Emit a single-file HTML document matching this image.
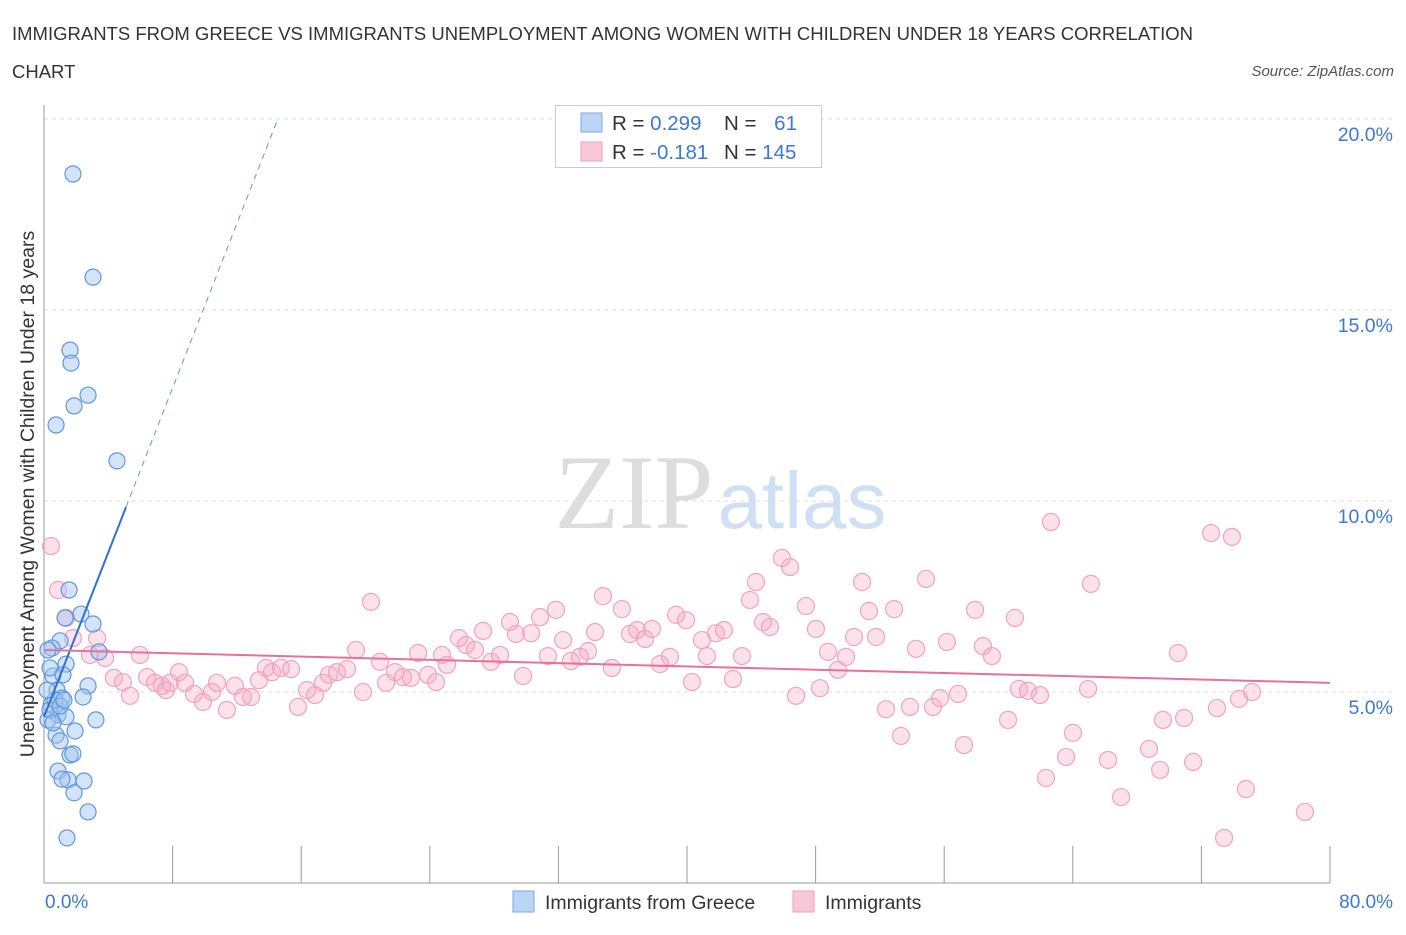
<!DOCTYPE html>
<html><head><meta charset="utf-8">
<style>
body{margin:0;background:#fff;width:1406px;height:930px;overflow:hidden;font-family:"Liberation Sans",sans-serif;}
svg text{font-family:"Liberation Sans",sans-serif;}
</style></head>
<body>
<svg id="chart" width="1406" height="930">
<text x="12" y="40" font-size="18.5" fill="#333">IMMIGRANTS FROM GREECE VS IMMIGRANTS UNEMPLOYMENT AMONG WOMEN WITH CHILDREN UNDER 18 YEARS CORRELATION</text>
<text x="12" y="78" font-size="18.5" fill="#333">CHART</text>
<text x="1394" y="76" font-size="15" fill="#555" font-style="italic" text-anchor="end">Source: ZipAtlas.com</text>
<text x="634" y="528" font-size="106" fill="#ddd" text-anchor="middle" style="font-family:'Liberation Serif',serif">ZIP</text>
<text x="802" y="528" font-size="80" fill="#d0e0f4" text-anchor="middle">atlas</text>
<text transform="translate(34,494) rotate(-90)" font-size="19.5" fill="#333" text-anchor="middle">Unemployment Among Women with Children Under 18 years</text>
<g id="grid"></g><g id="axes"></g><g id="pts"></g><g id="trends"></g>
<g>
<rect x="555.5" y="105.5" width="266" height="62" fill="#fff" stroke="#ccc"/>
<rect x="581" y="113" width="21" height="19" fill="#bcd5f5" stroke="#7aaae6"/>
<text x="612" y="130" font-size="20.5" fill="#333">R = <tspan fill="#3b78d8">0.299</tspan></text>
<text x="724" y="130" font-size="20.5" fill="#333">N = <tspan fill="#3b78d8" dx="12">61</tspan></text>
<rect x="581" y="142" width="21" height="19" fill="#f8c8d8" stroke="#eda0bb"/>
<text x="612" y="159" font-size="20.5" fill="#333">R = <tspan fill="#3b78d8">-0.181</tspan></text>
<text x="724" y="159" font-size="20.5" fill="#333">N = <tspan fill="#3b78d8">145</tspan></text>
</g>
<rect x="513" y="891" width="21" height="21" fill="#bcd5f5" stroke="#7aaae6"/>
<text x="545" y="909" font-size="19.5" fill="#333">Immigrants from Greece</text>
<rect x="793" y="891" width="21" height="21" fill="#f8c8d8" stroke="#eda0bb"/>
<text x="825" y="909" font-size="19.5" fill="#333">Immigrants</text>
</svg>
<script>
const yTicks=[5,10,15,20];
const yTickLabels=["5.0%","10.0%","15.0%","20.0%"];
const xTickLabels=["0.0%","80.0%"];
const greeceX=[1.8,3.05,1.62,1.68,2.74,1.87,0.75,4.54,1.56,2.3,3.05,1.31,1.0,0.5,1.37,3.42,0.56,2.74,0.25,0.37,1.18,0.81,2.43,1.12,0.44,0.87,0.25,1.37,3.23,0.75,1.93,1.0,1.62,1.8,0.87,1.49,1.12,2.49,1.87,2.74,1.43,0.37,0.68,0.19,0.56,1.0,1.24];
const greeceY=[18.56,15.86,13.95,13.61,12.77,12.49,11.99,11.05,7.67,7.04,6.78,6.94,6.34,6.15,5.73,6.05,5.42,5.16,6.1,5.63,5.45,5.05,4.87,4.84,4.66,4.4,4.27,4.35,4.27,3.87,3.98,3.72,3.35,3.38,2.93,2.7,2.72,2.67,2.36,1.86,1.18,4.53,4.79,5.05,4.19,4.63,4.79];
const immX=[0.44,0.87,1.37,1.80,2.86,3.30,3.80,4.35,4.91,5.35,5.97,6.41,6.91,7.34,7.59,7.84,8.40,8.77,9.33,9.89,10.45,10.76,11.38,11.88,12.38,12.88,13.37,13.81,14.18,14.74,15.37,15.80,16.36,16.86,17.36,17.73,18.23,18.85,19.41,19.84,20.34,20.90,21.28,21.84,22.33,22.83,23.27,23.89,24.39,24.76,25.07,25.82,26.25,26.81,27.31,27.81,28.37,28.99,29.36,29.80,30.30,30.86,31.35,31.85,32.29,32.78,33.34,33.84,34.28,34.77,35.33,35.95,36.45,36.89,37.39,37.82,38.32,38.94,39.32,39.94,40.31,40.93,41.24,41.80,42.30,42.86,43.42,43.92,44.29,44.73,45.16,45.91,46.41,46.78,47.40,48.02,48.27,48.77,49.39,49.89,50.39,50.89,51.32,51.76,52.38,52.88,53.31,53.87,54.25,54.87,55.30,55.74,56.17,56.86,57.23,57.92,58.41,58.97,59.97,60.40,60.65,61.21,61.96,62.33,62.64,63.58,64.01,64.95,65.13,66.19,67.00,68.74,69.43,69.61,70.54,70.92,71.48,72.60,72.97,73.41,73.90,74.34,74.77,75.15,78.44];
const immY=[8.82,7.67,6.94,6.41,5.97,6.41,5.89,5.37,5.26,4.90,5.97,5.39,5.24,5.16,5.05,5.24,5.52,5.24,4.95,4.74,5.00,5.24,4.53,5.16,4.87,4.87,5.31,5.63,5.52,5.63,5.60,4.61,5.05,4.92,5.24,5.45,5.52,5.60,6.10,5.00,7.36,5.79,5.24,5.52,5.39,5.37,6.02,5.45,5.26,5.97,5.71,6.41,6.23,6.10,6.60,5.79,5.97,6.83,6.52,5.42,6.54,6.96,5.94,7.15,6.36,5.81,5.92,6.07,6.57,7.51,5.63,7.17,6.52,6.62,6.39,6.65,5.73,5.92,7.02,6.88,5.26,6.36,5.94,6.54,6.62,5.34,5.94,7.41,7.88,6.83,6.70,8.51,8.27,4.90,7.25,6.65,5.10,6.05,5.58,5.92,6.44,7.88,7.12,6.44,4.55,7.17,3.85,4.61,6.13,7.96,4.61,4.84,6.31,4.95,3.61,7.15,6.20,5.94,4.27,6.94,5.08,5.03,4.92,2.75,9.45,3.30,3.93,5.08,7.83,3.22,2.25,3.51,2.96,4.27,6.02,4.32,3.17,9.16,4.58,1.18,9.06,4.82,2.46,5.00,1.86];
const greeceTrend=[4.35,1.076];
const immTrend=[6.1,-0.01075];

const NS="http://www.w3.org/2000/svg";
const X0=44,X1=1330,Y0=883,PXY=38.2;
const sx=v=>X0+(X1-X0)*v/80;
const sy=v=>Y0-v*PXY;
function mk(tag,attrs,parent){const e=document.createElementNS(NS,tag);for(const k in attrs)e.setAttribute(k,attrs[k]);parent.appendChild(e);return e;}
const grid=document.getElementById('grid'),axes=document.getElementById('axes'),pts=document.getElementById('pts'),tr=document.getElementById('trends');
yTicks.forEach((t,i)=>{
 const l=mk('line',{x1:X0,x2:1394,y1:sy(t),y2:sy(t),stroke:'#ddd','stroke-dasharray':'4,4'},grid);
 
 
 const tx=mk('text',{x:1393,y:sy(t)+22,'font-size':19.5,fill:'#3b78d8','text-anchor':'end'},grid);
 tx.textContent=yTickLabels[i];
 
 
});
const ya=mk('line',{x1:X0,x2:X0,y1:105,y2:Y0,stroke:'#999'},axes);


const xa=mk('line',{x1:X0,x2:X1,y1:Y0,y2:Y0,stroke:'#999'},axes);


for(let v=0;v<=80;v+=8){
 const t=mk('line',{x1:sx(v),x2:sx(v),y1:846,y2:Y0,stroke:'#999'},axes);
 
 
}
[[0,'start',45],[80,'end',1393]].forEach((d,i)=>{
 const t=mk('text',{x:d[2],y:908,'font-size':19,fill:'#3b78d8','text-anchor':d[1]},axes);
 t.textContent=xTickLabels[i];
 
 
});
immX.forEach((x,i)=>{
 const c=mk('circle',{cx:sx(x),cy:sy(immY[i]),r:8.5,fill:'rgba(244,168,195,0.35)',stroke:'#f0a3bf','stroke-width':1.2},pts);
 
 
});
greeceX.forEach((x,i)=>{
 const c=mk('circle',{cx:sx(x),cy:sy(greeceY[i]),r:8,fill:'rgba(160,196,240,0.45)',stroke:'#5f97dc','stroke-width':1.2},pts);
 
 
});
const gy=x=>greeceTrend[0]+greeceTrend[1]*x, iy=x=>immTrend[0]+immTrend[1]*x;
const gEnd=5.1, gMax=(20-greeceTrend[0])/greeceTrend[1];
let l=mk('line',{x1:sx(0),y1:sy(gy(0)),x2:sx(gEnd),y2:sy(gy(gEnd)),stroke:'#2f6fd6','stroke-width':2},tr);


l=mk('line',{x1:sx(gEnd),y1:sy(gy(gEnd)),x2:sx(gMax),y2:sy(20),stroke:'#5f97dc','stroke-width':1,'stroke-dasharray':'6,5'},tr);


l=mk('line',{x1:sx(0),y1:sy(iy(0)),x2:sx(80),y2:sy(iy(80)),stroke:'#e8709a','stroke-width':2},tr);


</script>
</body></html>
